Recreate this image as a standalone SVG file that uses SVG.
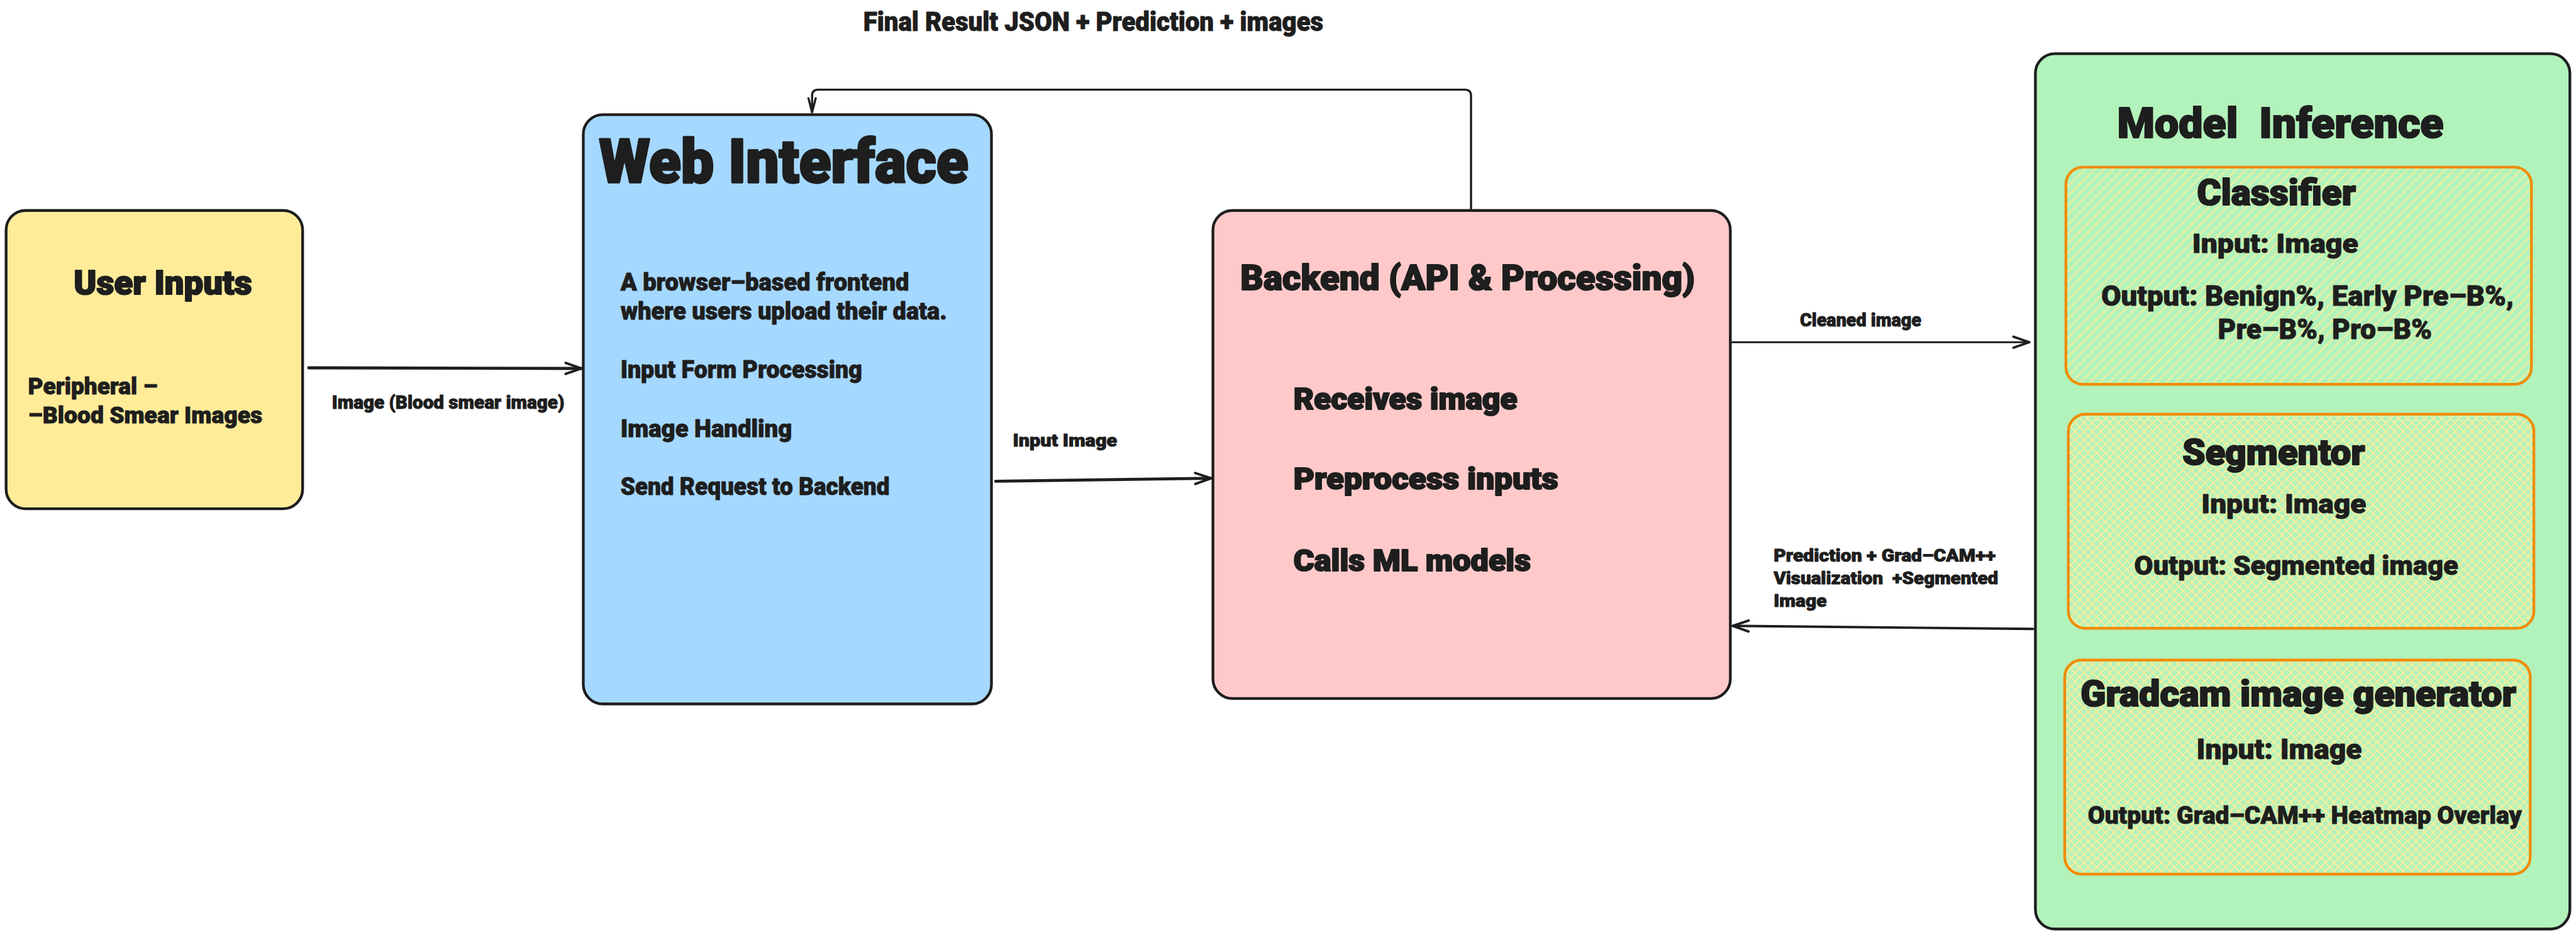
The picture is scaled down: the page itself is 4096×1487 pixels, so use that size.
<svg xmlns="http://www.w3.org/2000/svg" width="4096" height="1487" viewBox="0 0 4096 1487">
<style>
.t{font-family:Roboto,"Liberation Sans","DejaVu Sans",sans-serif;font-weight:900;fill:#1e1e1e;stroke:#1e1e1e;stroke-width:1;stroke-linejoin:round}
.h{stroke-width:2.2}
.box{stroke:#1e1e1e;stroke-width:4.5}
.inner{stroke:#f08c00;stroke-width:4.5}
.conn{fill:none;stroke:#1e1e1e;stroke-linecap:round;stroke-linejoin:round}
</style>
<defs>
<pattern id="hatch" patternUnits="userSpaceOnUse" width="11" height="11" patternTransform="rotate(-45)">
<line x1="0" y1="5.5" x2="11" y2="5.5" stroke="#ffec99" stroke-width="2"/>
</pattern>
<pattern id="cross" patternUnits="userSpaceOnUse" width="10" height="10" patternTransform="rotate(45)">
<line x1="0" y1="5" x2="10" y2="5" stroke="#ffec99" stroke-width="2"/>
<line x1="5" y1="0" x2="5" y2="10" stroke="#ffec99" stroke-width="2"/>
</pattern>
<marker id="ah" markerUnits="userSpaceOnUse" viewBox="-32 -14 36 28" markerWidth="36" markerHeight="28" refX="0" refY="0" orient="auto">
<path d="M-26,-9 L0,0 L-26,9" fill="none" stroke="#1e1e1e" stroke-width="4" stroke-linecap="round" stroke-linejoin="round"/>
</marker>
<marker id="ah2" markerUnits="userSpaceOnUse" viewBox="-30 -10 34 20" markerWidth="34" markerHeight="20" refX="0" refY="0" orient="auto">
<path d="M-23,-6 L0,0 L-23,6" fill="none" stroke="#1e1e1e" stroke-width="3.5" stroke-linecap="round" stroke-linejoin="round"/>
</marker>
</defs>
<rect x="0" y="0" width="4096" height="1487" fill="#ffffff"/>
<g transform="scale(0.97015)">
<g id="user-inputs">
<rect class="box" x="10" y="345" width="486" height="489" rx="32" fill="#ffec99"/>
<text class="t h" x="121" y="482" font-size="56" textLength="292" lengthAdjust="spacingAndGlyphs">User Inputs</text>
<text class="t" x="46" y="646" font-size="38" textLength="212" lengthAdjust="spacingAndGlyphs">Peripheral –</text>
<text class="t" x="46" y="694" font-size="38" textLength="384" lengthAdjust="spacingAndGlyphs">–Blood Smear Images</text>
</g>
<g id="web-interface">
<rect class="box" x="956" y="188" width="669" height="966" rx="32" fill="#a5d8ff"/>
<text class="t h" x="982" y="299" font-size="100" textLength="605" lengthAdjust="spacingAndGlyphs" style="stroke-width:3.5">Web Interface</text>
<text class="t" x="1017" y="476" font-size="40" textLength="473" lengthAdjust="spacingAndGlyphs">A browser–based frontend</text>
<text class="t" x="1017" y="524" font-size="40" textLength="535" lengthAdjust="spacingAndGlyphs">where users upload their data.</text>
<text class="t" x="1017" y="619" font-size="40" textLength="396" lengthAdjust="spacingAndGlyphs">Input Form Processing</text>
<text class="t" x="1017" y="716" font-size="40" textLength="281" lengthAdjust="spacingAndGlyphs">Image Handling</text>
<text class="t" x="1017" y="811" font-size="40" textLength="441" lengthAdjust="spacingAndGlyphs">Send Request to Backend</text>
</g>
<g id="backend">
<rect class="box" x="1988" y="345" width="848" height="800" rx="32" fill="#ffc9c9"/>
<text class="t h" x="2033" y="475" font-size="58" textLength="745" lengthAdjust="spacingAndGlyphs">Backend (API &amp; Processing)</text>
<text class="t h" x="2120" y="671" font-size="50" textLength="367" lengthAdjust="spacingAndGlyphs">Receives image</text>
<text class="t h" x="2120" y="802" font-size="50" textLength="434" lengthAdjust="spacingAndGlyphs">Preprocess inputs</text>
<text class="t h" x="2120" y="936" font-size="50" textLength="389" lengthAdjust="spacingAndGlyphs">Calls ML models</text>
</g>
<g id="model-inference">
<rect class="box" x="3336" y="88" width="876" height="1435" rx="32" fill="#b2f2bb"/>
<text class="t h" x="3470" y="226" font-size="68" textLength="535" lengthAdjust="spacingAndGlyphs" xml:space="preserve">Model  Inference</text>
</g>
<g id="classifier">
<rect class="inner" x="3386" y="274" width="763" height="356" rx="28" fill="url(#hatch)"/>
<text class="t h" x="3601" y="336" font-size="59" textLength="260" lengthAdjust="spacingAndGlyphs">Classifier</text>
<text class="t" x="3593" y="414" font-size="44" textLength="272" lengthAdjust="spacingAndGlyphs">Input: Image</text>
<text class="t" x="3444" y="501" font-size="46" textLength="676" lengthAdjust="spacingAndGlyphs">Output: Benign%, Early Pre–B%,</text>
<text class="t" x="3635" y="556" font-size="46" textLength="351" lengthAdjust="spacingAndGlyphs">Pre–B%, Pro–B%</text>
</g>
<g id="segmentor">
<rect class="inner" x="3390" y="679" width="763" height="351" rx="28" fill="url(#cross)"/>
<text class="t h" x="3577" y="762" font-size="59" textLength="299" lengthAdjust="spacingAndGlyphs">Segmentor</text>
<text class="t" x="3608" y="841" font-size="44" textLength="270" lengthAdjust="spacingAndGlyphs">Input: Image</text>
<text class="t" x="3498" y="942" font-size="44" textLength="531" lengthAdjust="spacingAndGlyphs">Output: Segmented image</text>
</g>
<g id="gradcam">
<rect class="inner" x="3384" y="1082" width="763" height="351" rx="28" fill="url(#cross)"/>
<text class="t h" x="3410" y="1158" font-size="59" textLength="714" lengthAdjust="spacingAndGlyphs">Gradcam image generator</text>
<text class="t" x="3600" y="1244" font-size="46" textLength="271" lengthAdjust="spacingAndGlyphs">Input: Image</text>
<text class="t" x="3422" y="1350" font-size="40" textLength="711" lengthAdjust="spacingAndGlyphs">Output: Grad–CAM++ Heatmap Overlay</text>
</g>
<g id="connectors">
<path class="conn" d="M506,603 L953,604" stroke-width="5" marker-end="url(#ah)"/>
<path class="conn" d="M1632,789 L1985,784" stroke-width="5" marker-end="url(#ah)"/>
<path class="conn" d="M2411,342 L2411,157 Q2411,147 2401,147 L1341,147 Q1331,147 1331,157 L1331,184" stroke-width="3.5" marker-end="url(#ah2)"/>
<path class="conn" d="M2837,561 L3326,561" stroke-width="3" marker-end="url(#ah)"/>
<path class="conn" d="M3332,1031 L2840,1026" stroke-width="4" marker-end="url(#ah)"/>
<text class="t" x="544" y="670" font-size="30" textLength="381" lengthAdjust="spacingAndGlyphs">Image (Blood smear image)</text>
<text class="t" x="1660" y="732" font-size="28" textLength="171" lengthAdjust="spacingAndGlyphs">Input Image</text>
<text class="t" x="1415" y="51" font-size="44" textLength="754" lengthAdjust="spacingAndGlyphs">Final Result JSON + Prediction + images</text>
<text class="t" x="2950" y="535" font-size="30" textLength="199" lengthAdjust="spacingAndGlyphs">Cleaned image</text>
<text class="t" x="2907" y="920" font-size="28" textLength="364" lengthAdjust="spacingAndGlyphs">Prediction + Grad–CAM++</text>
<text class="t" x="2907" y="958" font-size="28" textLength="368" lengthAdjust="spacingAndGlyphs" xml:space="preserve">Visualization  +Segmented</text>
<text class="t" x="2907" y="995" font-size="28" textLength="87" lengthAdjust="spacingAndGlyphs">Image</text>
</g>
</g>
</svg>
